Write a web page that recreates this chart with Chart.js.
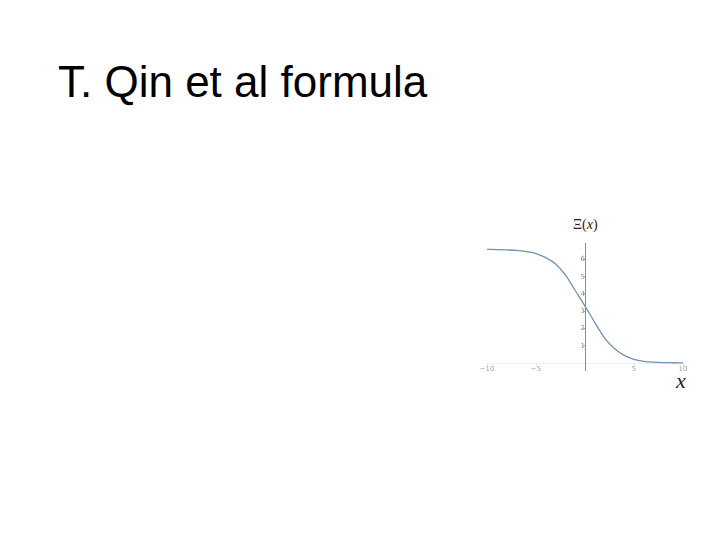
<!DOCTYPE html>
<html>
<head>
<meta charset="utf-8">
<script src="https://cdn.jsdelivr.net/npm/chart.js@4"></script>
<style>
  html, body { margin: 0; padding: 0; background: #fff; width: 720px; height: 540px; overflow: hidden; }
  #title { position: absolute; left: 58px; top: 60px; font-family: "Liberation Sans", Arial, sans-serif; font-size: 44px; line-height: 44px; color: #000; white-space: nowrap; }
  #wrap { position: absolute; left: 470px; top: 200px; width: 240px; height: 200px; }
  #ylab { position: absolute; left: 573px; top: 217px; font-family: "Liberation Serif", "DejaVu Serif", serif; font-size: 14px; line-height: 15px; color: #222; white-space: nowrap; }
  #xlab { position: absolute; left: 676px; top: 370px; font-family: "Liberation Serif", "DejaVu Serif", serif; font-style: italic; font-size: 22px; line-height: 22px; color: #222; }
</style>
</head>
<body>
<div id="title">T. Qin et al formula</div>
<div id="ylab">Ξ(<i>x</i>)</div>
<div id="xlab">x</div>
<div id="wrap"><canvas id="c"></canvas></div>
<script>
const xValues = [-10, -9, -8, -7, -6, -5, -4, -3, -2, -1, 0, 1, 2, 3, 4, 5, 6, 7, 8, 9, 10];
const yValues = [6.58, 6.57, 6.55, 6.52, 6.45, 6.34, 6.1, 5.74, 5.1, 4.2, 3.3, 2.35, 1.45, 0.85, 0.45, 0.22, 0.1, 0.05, 0.03, 0.02, 0.01];
const xTicks = [-10, -5, 5, 10];
const yTicks = [1, 2, 3, 4, 5, 6];

const points = xValues.map((x, i) => ({ x: x, y: yValues[i] }));

new Chart(document.getElementById('c'), {
  type: 'line',
  data: {
    datasets: [{
      data: points,
      borderColor: '#7290b2',
      borderWidth: 1.3,
      pointRadius: 0,
      cubicInterpolationMode: 'monotone',
      fill: false
    }]
  },
  options: {
    responsive: true,
    maintainAspectRatio: false,
    animation: false,
    devicePixelRatio: 1,
    layout: { padding: { left: 17, right: 27, top: 43, bottom: 30 } },
    plugins: { legend: { display: false }, tooltip: { enabled: false } },
    scales: {
      x: {
        type: 'linear',
        min: -10, max: 10,
        position: { y: 0 },
        grid: { display: true, drawOnChartArea: false, tickLength: 2, color: '#e0e0e0' },
        border: { display: true, color: '#f0f0f0', width: 1 },
        afterBuildTicks: (axis) => { axis.ticks = xTicks.map(v => ({ value: v })); },
        ticks: { padding: 0, color: '#a0a0a0', font: { size: 7, family: 'DejaVu Sans' }, maxRotation: 0,
                 callback: (v) => String(v).replace('-', '\u2212') }
      },
      y: {
        type: 'linear',
        min: -0.4, max: 6.95,
        position: { x: 0 },
        grid: { display: true, drawOnChartArea: false, tickLength: 2, color: '#aaa' },
        border: { display: true, color: '#8c8c8c', width: 1 },
        afterBuildTicks: (axis) => { axis.ticks = yTicks.map(v => ({ value: v })); },
        ticks: { padding: 1, color: '#909090', font: { size: 7, family: 'DejaVu Sans' } }
      }
    }
  }
});
</script>
</body>
</html>
